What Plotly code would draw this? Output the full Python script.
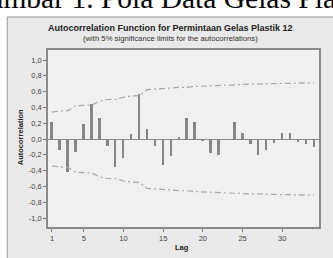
import plotly.graph_objects as go

lags = list(range(1, 35))
acf = [0.22, -0.14, -0.42, -0.165, 0.19, 0.44, 0.27, -0.09, -0.36, -0.245,
       0.06, 0.565, 0.13, -0.09, -0.33, -0.21, 0.03, 0.27, 0.215, -0.025,
       -0.18, -0.20, -0.01, 0.215, 0.075, -0.06, -0.20, -0.145, -0.045, 0.08,
       0.07, -0.04, -0.06, -0.095]
upper_limit = [0.34, 0.355, 0.36, 0.42, 0.425, 0.43, 0.48, 0.50, 0.50, 0.53,
               0.545, 0.55, 0.625, 0.63, 0.635, 0.645, 0.655, 0.655, 0.665, 0.67,
               0.67, 0.675, 0.685, 0.685, 0.69, 0.695, 0.695, 0.70, 0.705, 0.705,
               0.705, 0.71, 0.71, 0.71]
lower_limit = [-v for v in upper_limit]
ytick_vals = [1.0, 0.8, 0.6, 0.4, 0.2, 0.0, -0.2, -0.4, -0.6, -0.8, -1.0]
ytick_text = ["1,0", "0,8", "0,6", "0,4", "0,2", "0,0", "-0,2", "-0,4", "-0,6", "-0,8", "-1,0"]
xtick_vals = [1, 5, 10, 15, 20, 25, 30]

fig = go.Figure()
fig.add_trace(go.Bar(x=lags, y=acf, width=0.25, marker=dict(color="#868686", line=dict(width=0)),
                     showlegend=False, hoverinfo="skip"))
dash = "6px,3px,2px,3px"
fig.add_trace(go.Scatter(x=lags, y=upper_limit, mode="lines", line=dict(color="#a8a8a8", width=1.2, dash=dash),
                         showlegend=False, hoverinfo="skip"))
fig.add_trace(go.Scatter(x=lags, y=lower_limit, mode="lines", line=dict(color="#a8a8a8", width=1.2, dash=dash),
                         showlegend=False, hoverinfo="skip"))

W, H = 333, 258
L, R, T, B = 48, 12, 50, 31
pw, ph = W - L - R, H - T - B

def px(x):
    return (x - L) / pw

def py(y):
    return (H - B - y) / ph

shapes = [
    dict(type="rect", xref="paper", yref="paper", x0=px(-20), x1=px(360), y0=py(17), y1=py(-20),
         fillcolor="white", line=dict(width=0), layer="below"),
    dict(type="rect", xref="paper", yref="paper", x0=px(-20), x1=px(7), y0=py(280), y1=py(-20),
         fillcolor="white", line=dict(width=0), layer="below"),
    dict(type="line", xref="paper", yref="paper", x0=px(7), x1=px(360), y0=py(17), y1=py(17),
         line=dict(color="#999999", width=1)),
    dict(type="line", xref="paper", yref="paper", x0=px(7), x1=px(7), y0=py(17), y1=py(280),
         line=dict(color="#999999", width=1)),
]

annotations = [
    dict(text="Gambar 1. Pola Data Gelas Plastik 12", xref="paper", yref="paper", x=px(-34), y=py(-1.5),
         xanchor="left", yanchor="middle", showarrow=False,
         font=dict(family="Liberation Serif", size=29.5, color="black")),
    dict(text="<b>Autocorrelation Function for Permintaan Gelas Plastik 12</b>", xref="paper", yref="paper",
         x=px(171), y=py(28), xanchor="center", yanchor="middle", showarrow=False,
         font=dict(family="Liberation Sans", size=9, color="#222222")),
    dict(text="(with 5% significance limits for the autocorrelations)", xref="paper", yref="paper",
         x=px(171.5), y=py(38.5), xanchor="center", yanchor="middle", showarrow=False,
         font=dict(family="Liberation Sans", size=7.7, color="#333333")),
    dict(text="<b>Autocorrelation</b>", xref="paper", yref="paper", x=px(20), y=py(137), textangle=-90,
         xanchor="center", yanchor="middle", showarrow=False,
         font=dict(family="Liberation Sans", size=7.5, color="#222222")),
    dict(text="<b>Lag</b>", xref="paper", yref="paper", x=px(183), y=py(248),
         xanchor="center", yanchor="middle", showarrow=False,
         font=dict(family="Liberation Sans", size=7.5, color="#222222")),
]

fig.update_layout(
    width=W, height=H,
    margin=dict(l=L, r=R, t=T, b=B, pad=0),
    paper_bgcolor="#e9e9e9",
    plot_bgcolor="#f0f0f0",
    shapes=shapes,
    annotations=annotations,
    bargap=0,
    hovermode=False,
    xaxis=dict(range=[0.5, 34.625], tickvals=xtick_vals, ticks="outside", ticklen=3, tickcolor="#777777",
               showgrid=False, zeroline=False, showline=True, linecolor="#8a8a8a", linewidth=1.5, mirror=True,
               tickfont=dict(family="Liberation Sans", size=7.5, color="#444444")),
    yaxis=dict(range=[-1.114, 1.127], tickvals=ytick_vals, ticktext=ytick_text, ticks="outside", ticklen=3,
               tickcolor="#777777", showgrid=False, zeroline=True, zerolinecolor="#8a8a8a", zerolinewidth=1,
               showline=True, linecolor="#8a8a8a", linewidth=1.5, mirror=True,
               tickfont=dict(family="Liberation Sans", size=7.5, color="#444444")),
)

fig.write_html("out.html", config={"displayModeBar": False},
               post_script="document.body.style.margin='0';document.body.style.overflow='hidden';")
